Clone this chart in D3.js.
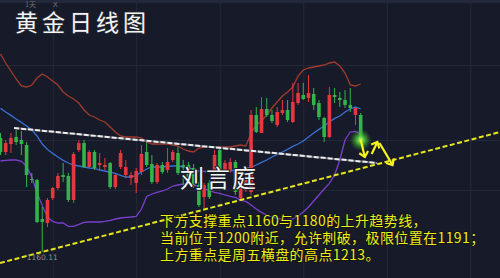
<!DOCTYPE html>
<html>
<head>
<meta charset="utf-8">
<script src="https://cdn.jsdelivr.net/npm/d3@7"></script>
<style>
  html, body { margin: 0; padding: 0; background: #171b29; }
  svg { display: block; }
</style>
</head>
<body>
<svg id="chart" width="500" height="278"></svg>
<script>
// daily gold candles (red = up, green = down)
var opens = [1217, 1210, 1214, 1217.5, 1216, 1213.5, 1196.5, 1196, 1176.5, 1174.5,
  1187, 1192, 1198.5, 1198, 1186, 1211, 1214.5, 1202.5, 1210, 1203.5,
  1202.5, 1204.5, 1192.5, 1202.5, 1198.5, 1197, 1194.5, 1200, 1210, 1204,
  1195, 1203.5, 1201, 1206, 1209.5, 1203.5, 1203.5, 1202, 1193.5, 1187.5,
  1194.5, 1196, 1211, 1201, 1201, 1205, 1187, 1191, 1190, 1228.5,
  1219.5, 1231.5, 1228.5, 1223.5, 1229.5, 1231, 1225, 1234.5, 1238.5, 1237,
  1239, 1234.5, 1227, 1217.5, 1238.5, 1237, 1236, 1233.5, 1228.5, 1228.5];
var highs = [1219.5, 1216, 1219.5, 1221, 1220.5, 1215, 1199.5, 1196.5, 1182.5, 1187,
  1192.5, 1199.5, 1204.5, 1199.5, 1210, 1216, 1216, 1211, 1211, 1209.5,
  1207, 1205, 1199.5, 1211, 1206, 1200, 1202, 1213.5, 1215, 1208.5,
  1204.5, 1205, 1212, 1211, 1212.5, 1206, 1205, 1204, 1195, 1194.5,
  1196, 1211, 1212, 1206, 1207, 1206, 1196, 1198.5, 1231, 1232.5,
  1237.5, 1237, 1231, 1232.5, 1236, 1236, 1244.5, 1244.5, 1244.5, 1248.5,
  1242, 1236, 1227.5, 1242.5, 1242, 1240, 1241, 1242, 1232.5, 1229.5];
var lows = [1208.5, 1208.5, 1209.5, 1213.5, 1208.5, 1192.5, 1194.5, 1174.5, 1160.11, 1172.5,
  1186, 1191, 1195, 1185, 1184.5, 1210, 1202, 1202, 1201, 1201,
  1201, 1191.5, 1191.5, 1201.5, 1197, 1193.5, 1189.5, 1198.5, 1202.5, 1194,
  1194, 1199, 1199.5, 1205, 1198.5, 1193.5, 1195, 1192, 1182.5, 1182,
  1186.5, 1194, 1197, 1199, 1199.5, 1188.5, 1186, 1190, 1188.5, 1219.5,
  1219.5, 1227.5, 1224.5, 1222.5, 1228.5, 1225, 1224.5, 1233.5, 1236, 1235,
  1231, 1226, 1215, 1217, 1234.5, 1232.5, 1232, 1230, 1223.5, 1215];
var closes = [1210, 1214.5, 1217, 1215, 1214, 1198.5, 1196, 1175, 1175, 1186,
  1192, 1198, 1197.5, 1186, 1209, 1214.5, 1202.5, 1210, 1202, 1204.5,
  1203.5, 1192.5, 1198.5, 1209.5, 1202.5, 1198.5, 1200.5, 1209, 1203.5, 1195,
  1203.5, 1200, 1205, 1210, 1199.5, 1202.5, 1197.5, 1193.5, 1183.5, 1193.5,
  1187.5, 1208.5, 1199.5, 1204.5, 1205, 1190, 1193.5, 1196, 1228.5, 1220,
  1231.5, 1228.5, 1225.5, 1230, 1231, 1226, 1235, 1239.5, 1236.5, 1239.5,
  1233.5, 1227.5, 1217.5, 1238.5, 1237.5, 1236, 1233.5, 1232, 1232, 1216];

// bollinger bands as drawn on the chart
var upperBand = [1259, 1254.5, 1250.5, 1246.5, 1243, 1242.5, 1243.5, 1247, 1249, 1247.5,
  1245.5, 1243.5, 1240, 1238, 1236.5, 1234.5, 1231, 1228.5, 1227.5, 1226,
  1225, 1222.5, 1220, 1218, 1217.5, 1217.5, 1217.5, 1217, 1215, 1214,
  1214, 1214, 1214, 1213.5, 1213, 1211.5, 1210.5, 1210, 1212, 1212.5,
  1212.5, 1212.5, 1212.5, 1212.5, 1212.5, 1213, 1213.5, 1213, 1219.5, 1223.5,
  1225.5, 1228.5, 1232, 1235, 1238, 1240, 1242.5, 1248, 1251, 1252,
  1252.5, 1253, 1253.5, 1254.5, 1255, 1253, 1249.5, 1243.5, 1243, 1244];
var midBand = [1231.8, 1230, 1228.3, 1226.5, 1224.8, 1223, 1221, 1218, 1214, 1211.3,
  1209.3, 1207.5, 1205.8, 1204.5, 1203.5, 1203, 1202.5, 1202, 1201.8, 1201,
  1200.5, 1199.8, 1199.3, 1198.3, 1197.5, 1197.5, 1198.3, 1200, 1201.5, 1202.5,
  1202.5, 1202.5, 1202.8, 1203, 1203, 1202.5, 1202, 1201.3, 1200.5, 1200.3,
  1200, 1200, 1200, 1200.3, 1200.5, 1201, 1201.5, 1201.8, 1202.3, 1203.5,
  1204.8, 1206, 1207.5, 1208.8, 1210, 1211.3, 1212.8, 1214, 1215.5, 1217.5,
  1219.5, 1221.3, 1223, 1225, 1226.8, 1228, 1230, 1231.5, 1232.5, 1231.5];
var lowerBand = [1205.5, 1205.8, 1206, 1206, 1205.3, 1202.8, 1197.5, 1189.5, 1183.3, 1177.5,
  1175.3, 1174.5, 1174.5, 1172.8, 1172.8, 1173.8, 1174.8, 1175, 1175, 1175,
  1175.3, 1175.8, 1176.5, 1177, 1177.3, 1177.5, 1177.8, 1181.5, 1187.8, 1189,
  1189.8, 1190.5, 1191.5, 1193, 1193.5, 1194, 1193.8, 1193.5, 1192.8, 1191.5,
  1190.8, 1189.8, 1189.3, 1188.5, 1187.8, 1187.3, 1185.8, 1185.3, 1183.5, 1181.5,
  1179.8, 1178.5, 1177.5, 1176.8, 1176.3, 1176, 1176.5, 1178, 1180, 1182.5,
  1185.5, 1188.5, 1191.5, 1194.3, 1198.5, 1206, 1216, 1220, 1220.3, 1219];

// faint grid positions (candle index / price)
var gridCandles = [10, 26, 42, 58, 74, 90];
var gridPrices = [1285, 1253.5, 1216, 1191];

// drawn lines: [index, price] -> [index, price]
var pressureLine = [[2.6, 1222], [72.1, 1204.5]];
var trendLine = [[-0.1, 1154.5], [95.7, 1220]];
var arrows = [
  [[69, 1216], [69.8, 1207.5]],
  [[71.1, 1209], [72.2, 1215]],
  [[72.6, 1214.5], [75.1, 1203.5]]
];

var titleText = "黄金日线图";
var authorText = "刘言庭";
var noteLines = [
  "下方支撑重点1160与1180的上升趋势线，",
  "当前位于1200附近，允许刺破，极限位置在1191；",
  "上方重点是周五横盘的高点1213。"
];
var lowLabel = "1160.11";

var width = 500, height = 278;
var svg = d3.select("#chart");

var x = d3.scaleLinear().domain([0, 69]).range([0.5, 360.7]);
var y = d3.scaleLinear().domain([1160, 1244.5]).range([252, 83]);

svg.append("rect").attr("width", width).attr("height", height).attr("fill", "#171b29");
svg.append("rect").attr("width", width).attr("height", 2).attr("fill", "#23283a");

// grid through d3 axes
var gx = svg.append("g")
  .attr("transform", "translate(0," + height + ")")
  .call(d3.axisBottom(x).tickValues(gridCandles).tickSize(height).tickFormat(""));
var gy = svg.append("g")
  .call(d3.axisRight(y).tickValues(gridPrices).tickSize(width).tickFormat(""));
[gx, gy].forEach(function (g) {
  g.select(".domain").remove();
  g.selectAll(".tick line").attr("stroke", "#232838").attr("stroke-width", 1);
});
gx.selectAll(".tick line").attr("y2", -height);

var idx = d3.range(opens.length);

// bands
function bandLine(values) {
  return d3.line()
    .x(function (d) { return x(d); })
    .y(function (d) { return y(values[d]); })(idx);
}
svg.append("path").attr("d", bandLine(upperBand))
  .attr("fill", "none").attr("stroke", "#a23a2c").attr("stroke-width", 1.3);
svg.append("path").attr("d", bandLine(midBand))
  .attr("fill", "none").attr("stroke", "#3b6fd4").attr("stroke-width", 1.3);
svg.append("path").attr("d", bandLine(lowerBand))
  .attr("fill", "none").attr("stroke", "#7a3fcc").attr("stroke-width", 1.3);

// candles
var candle = svg.append("g").selectAll("g")
  .data(idx)
  .enter().append("g");
function candleColor(i) { return closes[i] >= opens[i] ? "#e5373f" : "#33b44a"; }
candle.append("line")
  .attr("x1", function (i) { return x(i); })
  .attr("x2", function (i) { return x(i); })
  .attr("y1", function (i) { return y(highs[i]); })
  .attr("y2", function (i) { return y(lows[i]); })
  .attr("stroke", candleColor)
  .attr("stroke-width", 1);
candle.append("rect")
  .attr("x", function (i) { return x(i) - 1.8; })
  .attr("width", 3.6)
  .attr("y", function (i) { return y(Math.max(opens[i], closes[i])); })
  .attr("height", function (i) { return Math.max(1, Math.abs(y(opens[i]) - y(closes[i]))); })
  .attr("fill", candleColor);

var seg = d3.line()
  .x(function (d) { return x(d[0]); })
  .y(function (d) { return y(d[1]); });

// white dashed pressure line
svg.append("path").attr("d", seg(pressureLine))
  .attr("stroke", "#5d606b").attr("stroke-width", 2).attr("fill", "none");
svg.append("path").attr("d", seg(pressureLine))
  .attr("stroke", "#ececec").attr("stroke-width", 2).attr("fill", "none")
  .attr("stroke-dasharray", "5,2");

// yellow dashed trend line
svg.append("path").attr("d", seg(trendLine))
  .attr("stroke", "#e6e61c").attr("stroke-width", 2).attr("fill", "none")
  .attr("stroke-dasharray", "5,2.5");

// green glow on the last candle
var defs = svg.append("defs");
var grad = defs.append("radialGradient").attr("id", "glow");
grad.append("stop").attr("offset", "0%").attr("stop-color", "#c8ff7a").attr("stop-opacity", 1);
grad.append("stop").attr("offset", "35%").attr("stop-color", "#55d83a").attr("stop-opacity", 0.8);
grad.append("stop").attr("offset", "100%").attr("stop-color", "#2a8a20").attr("stop-opacity", 0);
svg.append("circle")
  .attr("cx", x(69)).attr("cy", y(closes[69]))
  .attr("r", 11).attr("fill", "url(#glow)");

// yellow arrows
defs.append("marker")
  .attr("id", "head")
  .attr("viewBox", "-8 -8 16 16")
  .attr("markerWidth", 16).attr("markerHeight", 16)
  .attr("markerUnits", "userSpaceOnUse")
  .attr("orient", "auto")
  .append("path")
  .attr("d", "M-5,-4.5 L0,0 L-5,4.5")
  .attr("fill", "none").attr("stroke", "#f6f61e").attr("stroke-width", 2.2);
svg.append("g").selectAll("path")
  .data(arrows)
  .enter().append("path")
  .attr("d", seg)
  .attr("stroke", "#f6f61e").attr("stroke-width", 2.2).attr("fill", "none")
  .attr("marker-end", "url(#head)");

// low label
svg.append("text")
  .attr("x", x(8)).attr("y", y(lows[8]) + 8)
  .attr("text-anchor", "middle")
  .attr("font-family", "DejaVu Sans, sans-serif")
  .attr("font-size", 7.5)
  .attr("fill", "#8e919b")
  .text(lowLabel);

// faint toolbar leftovers above the title
svg.append("text").attr("x", 25).attr("y", 7).attr("font-size", 7)
  .attr("font-family", "Noto Sans CJK SC").attr("fill", "#6d7080").text("1天");
svg.append("text").attr("x", 53).attr("y", 7).attr("font-size", 7)
  .attr("font-family", "DejaVu Sans").attr("fill", "#6d7080").text("X");

// title
svg.append("text")
  .attr("x", 15).attr("y", 31)
  .attr("font-family", "Noto Sans CJK SC")
  .attr("font-size", 23)
  .attr("letter-spacing", 4)
  .attr("fill", "#f4f4f4")
  .attr("stroke", "#2a2d38").attr("stroke-width", 1.5).attr("paint-order", "stroke")
  .text(titleText);

// author
svg.append("text")
  .attr("x", 180).attr("y", 187)
  .attr("font-family", "Noto Sans CJK SC")
  .attr("font-size", 24)
  .attr("letter-spacing", 2)
  .attr("fill", "#f4f4f4")
  .attr("stroke", "#1b1d26").attr("stroke-width", 2).attr("paint-order", "stroke")
  .text(authorText);

// note text
var noteY = [226, 242.5, 260];
svg.append("g").selectAll("text")
  .data(noteLines)
  .enter().append("text")
  .attr("x", 160)
  .attr("y", function (d, i) { return noteY[i]; })
  .attr("font-family", "Noto Sans CJK SC")
  .attr("font-size", 14)
  .attr("letter-spacing", 0.4)
  .attr("fill", "#eded1e")
  .attr("stroke", "#111").attr("stroke-width", 1.5).attr("paint-order", "stroke")
  .text(function (d) { return d; });
</script>
</body>
</html>
